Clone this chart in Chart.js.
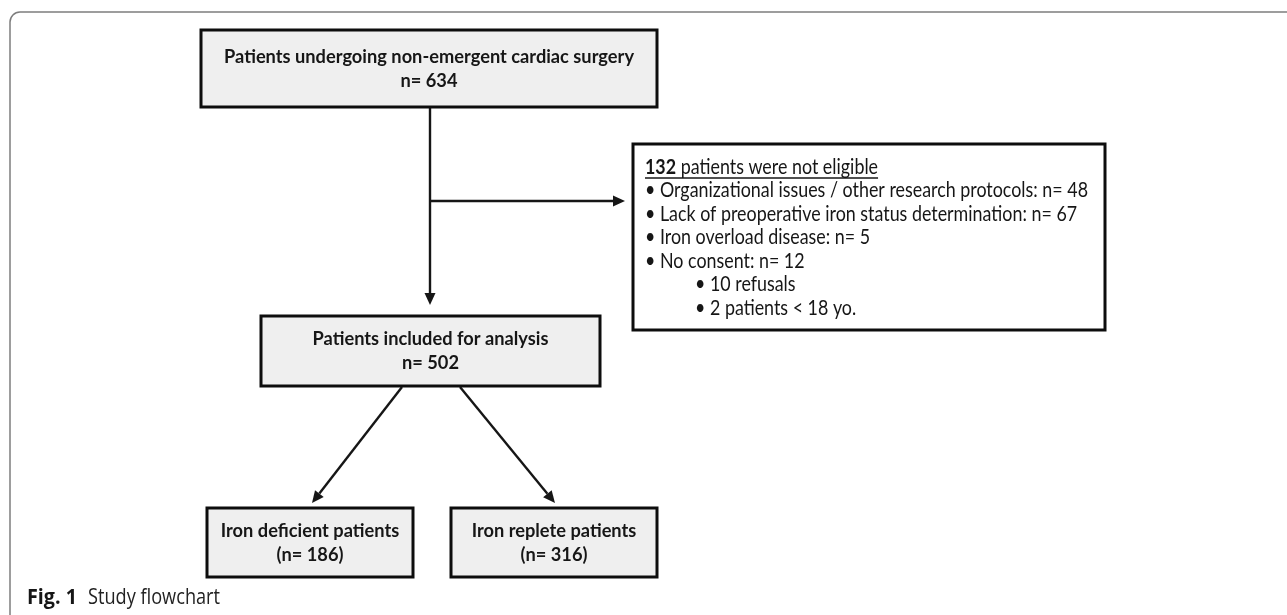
<!DOCTYPE html>
<html>
<head>
<meta charset="utf-8">
<script src="https://cdn.jsdelivr.net/npm/chart.js@4.4.1/dist/chart.umd.min.js"></script>
<style>
  html,body{margin:0;padding:0;background:#fff;}
  #wrap{width:1287px;height:615px;position:relative;}
</style>
</head>
<body>
<div id="wrap"><canvas id="flow" width="1287" height="615"></canvas></div>
<script>
// flowchart values
var stageLabels = ['Patients undergoing non-emergent cardiac surgery','Patients included for analysis','Iron deficient patients','Iron replete patients'];
var stageN = [634, 502, 186, 316];
var excludedN = 132;
var exclusionLabels = ['Organizational issues / other research protocols','Lack of preoperative iron status determination','Iron overload disease','No consent'];
var exclusionN = [48, 67, 5, 12];
var consentLabels = ['refusals','patients < 18 yo.'];
var consentN = [10, 2];
var captionLabel = 'Fig. 1';
var captionText = 'Study flowchart';

(function(){
  // layout, in scale units (x 0..1287, y 0..615 top-down)
  var BOX = [
    {x0:201,y0:30,x1:657,y1:107},
    {x0:261,y0:316,x1:600,y1:386},
    {x0:207,y0:508,x1:413,y1:577},
    {x0:451,y0:508,x1:657,y1:577}
  ];
  var EXCL = {x0:633,y0:144,x1:1105,y1:330};
  var LINKS = [[430,107,430,305],[430,201,625,201],[402,387,312,503],[460,387,555,503]];
  var BOLD = 'bold 19px Lato, "DejaVu Sans", sans-serif';
  var REG = '21px Lato, "DejaVu Sans", sans-serif';
  var INK = '#161616';

  function P(c,x,y){ return [c.scales.x.getPixelForValue(x), c.scales.y.getPixelForValue(y)]; }

  function arrow(ctx,c,l){
    var a=P(c,l[0],l[1]), b=P(c,l[2],l[3]);
    var ang=Math.atan2(b[1]-a[1],b[0]-a[0]), L=12, W=5.5;
    var bx=b[0]-Math.cos(ang)*L, by=b[1]-Math.sin(ang)*L;
    ctx.strokeStyle=INK; ctx.fillStyle=INK; ctx.lineWidth=2.4;
    ctx.beginPath(); ctx.moveTo(a[0],a[1]); ctx.lineTo(bx,by); ctx.stroke();
    ctx.beginPath(); ctx.moveTo(b[0],b[1]);
    ctx.lineTo(bx+Math.sin(ang)*W, by-Math.cos(ang)*W);
    ctx.lineTo(bx-Math.sin(ang)*W, by+Math.cos(ang)*W);
    ctx.closePath(); ctx.fill();
  }

  function rect(ctx,c,b,fill){
    var a=P(c,b.x0,b.y0), z=P(c,b.x1,b.y1);
    ctx.fillStyle=fill; ctx.fillRect(a[0],a[1],z[0]-a[0],z[1]-a[1]);
    ctx.strokeStyle='#0d0d0d'; ctx.lineWidth=3;
    ctx.strokeRect(a[0],a[1],z[0]-a[0],z[1]-a[1]);
  }

  // text squeezed horizontally by k around the anchor
  function txt(ctx,s,x,y,k,align){
    ctx.save(); ctx.translate(x,y); ctx.scale(k,1);
    ctx.textAlign=align||'left'; ctx.fillText(s,0,0); ctx.restore();
  }

  var flowPlugin = {
    id:'flow',
    afterDraw:function(c){
      var ctx=c.ctx; ctx.save();
      ctx.textBaseline='middle';

      // outer frame (top + left, rounded corner)
      var t=P(c,20,12), l=P(c,10,22), r=P(c,1287,12), bt=P(c,10,615);
      ctx.strokeStyle='#7d7d7d'; ctx.lineWidth=1.5;
      ctx.beginPath(); ctx.moveTo(r[0],r[1]); ctx.lineTo(t[0],t[1]);
      ctx.arcTo(l[0],t[1],l[0],l[1],10); ctx.lineTo(bt[0],bt[1]); ctx.stroke();

      LINKS.forEach(function(k){ arrow(ctx,c,k); });

      // stage boxes
      ctx.font=BOLD;
      var kb=Math.min(1,410/ctx.measureText(stageLabels[0]).width);
      BOX.forEach(function(b,i){
        rect(ctx,c,b,'#efefef');
        var cx=(b.x0+b.x1)/2, cy=(b.y0+b.y1)/2;
        var p1=P(c,cx,cy-12), p2=P(c,cx,cy+12);
        ctx.fillStyle=INK; ctx.font=BOLD;
        txt(ctx,stageLabels[i],p1[0],p1[1],kb,'center');
        txt(ctx,(i>=2?'(n= '+stageN[i]+')':'n= '+stageN[i]),p2[0],p2[1],kb,'center');
      });

      // exclusion box
      rect(ctx,c,EXCL,'#ffffff');
      var lines=exclusionLabels.map(function(s,i){ return '\u2022 '+s+': n= '+exclusionN[i]; });
      ctx.font=REG;
      var kr=Math.min(1,443/ctx.measureText(lines[0]).width);
      ctx.fillStyle=INK;
      var h=P(c,645,167);
      ctx.font=BOLD.replace('19px','21px');
      var w1=ctx.measureText(String(excludedN)).width*kr;
      txt(ctx,String(excludedN),h[0],h[1],kr);
      ctx.font=REG;
      var rest=' patients were not eligible';
      txt(ctx,rest,h[0]+w1,h[1],kr);
      var w2=ctx.measureText(rest).width*kr;
      ctx.strokeStyle=INK; ctx.lineWidth=1.4;
      ctx.beginPath(); ctx.moveTo(h[0],h[1]+11); ctx.lineTo(h[0]+w1+w2,h[1]+11); ctx.stroke();
      lines.forEach(function(s,i){ var p=P(c,645,190.5+i*23.5); txt(ctx,s,p[0],p[1],kr); });
      consentLabels.forEach(function(s,i){
        var p=P(c,695,284.5+i*23.5);
        txt(ctx,'\u2022 '+consentN[i]+' '+s,p[0],p[1],kr);
      });

      // caption
      var cp=P(c,27,598), ce=P(c,77,598), cs=P(c,88,598), cz=P(c,220,598);
      ctx.fillStyle=INK;
      ctx.font='bold 21px "Open Sans", sans-serif';
      txt(ctx,captionLabel,cp[0],cp[1],Math.min(1,(ce[0]-cp[0])/ctx.measureText(captionLabel).width));
      ctx.font='21px "Open Sans", sans-serif';
      ctx.fillStyle='#222';
      txt(ctx,captionText,cs[0],cs[1],Math.min(1,(cz[0]-cs[0])/ctx.measureText(captionText).width));
      ctx.restore();
    }
  };

  new Chart(document.getElementById('flow'),{
    type:'scatter',
    data:{datasets:[{data:[],pointRadius:0}]},
    options:{
      responsive:false, animation:false, devicePixelRatio:1,
      layout:{padding:0},
      plugins:{legend:{display:false},tooltip:{enabled:false}},
      scales:{
        x:{type:'linear',min:0,max:1287,display:false},
        y:{type:'linear',min:0,max:615,reverse:true,display:false}
      }
    },
    plugins:[flowPlugin]
  });
})();
</script>
</body>
</html>
